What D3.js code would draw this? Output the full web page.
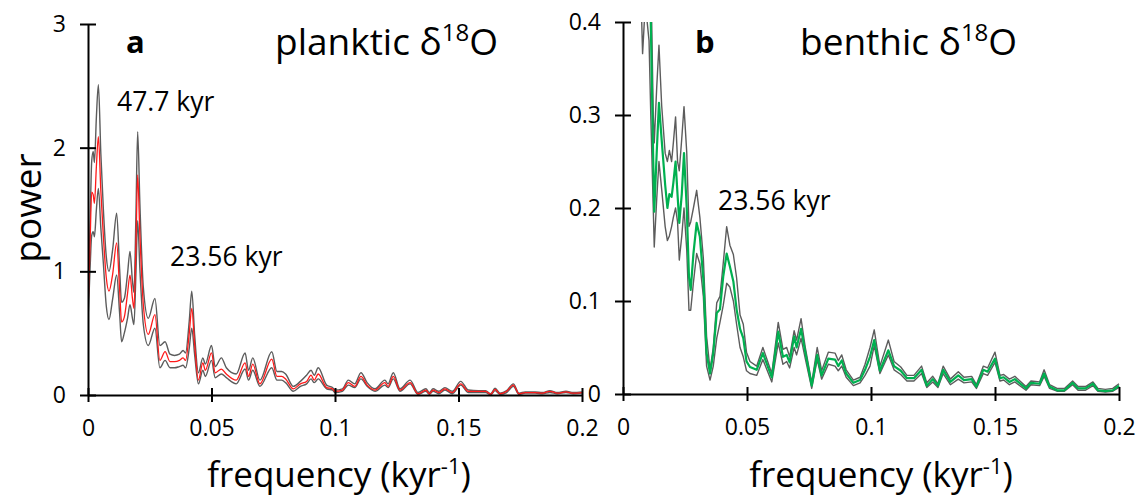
<!DOCTYPE html>
<html><head><meta charset="utf-8">
<script src="https://cdn.jsdelivr.net/npm/d3@7"></script>
<style>html,body{margin:0;padding:0;background:#fff}svg{display:block}text{font-family:"Open Sans",sans-serif;fill:#000}</style>
</head><body>
<svg id="c" width="1139" height="498"></svg>
<script>
// ---- Panel a: planktic d18O power spectrum ----
const freqA = [0,0.0008,0.0015,0.0021,0.0026,0.0034,0.0042,0.0052,0.0062,0.0074,0.0085,0.0100,0.0116,0.0128,0.0136,0.0147,0.0160,0.0170,0.0180,0.0186,0.0194,0.0201,0.0210,0.0224,0.0244,0.0271,0.0291,0.0312,0.0332,0.0350,0.0370,0.0385,0.0395,0.0410,0.0420,0.0432,0.0447,0.0465,0.0475,0.0500,0.0515,0.0540,0.0560,0.0600,0.0636,0.0650,0.0667,0.0696,0.0744,0.0765,0.0784,0.0800,0.0831,0.0860,0.0885,0.0903,0.0916,0.0932,0.0966,0.0990,0.1000,0.1030,0.1054,0.1080,0.1105,0.1130,0.1162,0.1202,0.1215,0.1236,0.1263,0.1304,0.1336,0.1368,0.1382,0.1397,0.1420,0.1445,0.1475,0.1509,0.1540,0.1580,0.1610,0.1630,0.1648,0.1668,0.1695,0.1722,0.1745,0.1770,0.1810,0.1840,0.1870,0.1900,0.1935,0.1965,0.2000];
const midA  = [0.67,1.20,1.64,1.62,1.55,1.85,2.09,1.65,1.29,0.95,0.84,0.98,1.23,0.85,0.59,0.63,0.82,0.97,0.78,0.70,1.20,1.78,1.30,0.73,0.49,0.65,0.28,0.35,0.27,0.27,0.28,0.30,0.28,0.50,0.70,0.40,0.12,0.26,0.20,0.34,0.18,0.21,0.17,0.12,0.26,0.15,0.25,0.09,0.29,0.15,0.15,0.13,0.05,0.09,0.11,0.16,0.12,0.17,0.06,0.05,0.03,0.04,0.10,0.07,0.15,0.08,0.04,0.10,0.07,0.15,0.04,0.10,0.01,0.04,0.01,0.04,0.02,0.05,0.02,0.09,0.03,0.03,0.03,0.005,0.045,0.01,0.03,0.08,0.01,0.02,0.02,0.015,0.03,0.015,0.025,0.015,0.02];
const upA   = [0.70,1.35,1.89,1.97,1.88,2.25,2.51,1.95,1.51,1.12,1.00,1.18,1.47,1.02,0.75,0.78,0.98,1.16,0.92,0.83,1.45,2.13,1.55,0.87,0.62,0.78,0.40,0.43,0.33,0.32,0.33,0.36,0.34,0.60,0.84,0.48,0.18,0.30,0.25,0.40,0.23,0.30,0.22,0.17,0.34,0.20,0.30,0.12,0.35,0.19,0.19,0.17,0.07,0.11,0.16,0.20,0.16,0.22,0.08,0.06,0.04,0.05,0.12,0.09,0.18,0.10,0.05,0.12,0.09,0.18,0.05,0.12,0.02,0.05,0.02,0.05,0.03,0.06,0.03,0.11,0.04,0.035,0.035,0.01,0.055,0.015,0.035,0.09,0.015,0.025,0.025,0.02,0.035,0.02,0.03,0.02,0.025];
const lowA  = [0.60,1.00,1.29,1.32,1.28,1.50,1.67,1.35,1.07,0.72,0.61,0.78,0.97,0.66,0.43,0.50,0.62,0.73,0.62,0.57,0.98,1.41,1.02,0.57,0.40,0.54,0.22,0.28,0.22,0.22,0.23,0.24,0.22,0.38,0.54,0.32,0.09,0.20,0.15,0.28,0.14,0.17,0.14,0.09,0.21,0.12,0.20,0.07,0.22,0.12,0.12,0.10,0.03,0.07,0.09,0.13,0.10,0.13,0.05,0.04,0.02,0.03,0.08,0.06,0.13,0.07,0.03,0.08,0.06,0.13,0.03,0.09,0.005,0.03,0.005,0.03,0.01,0.04,0.01,0.08,0.02,0.02,0.02,0.0,0.035,0.005,0.02,0.07,0.005,0.015,0.015,0.01,0.02,0.01,0.02,0.01,0.015];

// ---- Panel b: benthic d18O power spectrum ----
const freqB = [0.0060,0.0079,0.0090,0.0105,0.0112,0.0122,0.0126,0.0136,0.0145,0.0156,0.0170,0.0179,0.0187,0.0196,0.0203,0.0212,0.0220,0.0227,0.0237,0.0246,0.0257,0.0266,0.0273,0.0284,0.0297,0.0310,0.0324,0.0337,0.0351,0.0364,0.0378,0.0391,0.0404,0.0418,0.0431,0.0445,0.0458,0.0472,0.0485,0.0498,0.0512,0.0539,0.0564,0.0600,0.0626,0.0645,0.0660,0.0672,0.0690,0.0700,0.0718,0.0735,0.0761,0.0783,0.0801,0.0828,0.0855,0.0868,0.0882,0.0900,0.0929,0.0956,0.0976,0.0996,0.1013,0.1036,0.1070,0.1093,0.1120,0.1145,0.1173,0.1204,0.1225,0.1249,0.1270,0.1291,0.1320,0.1352,0.1375,0.1406,0.1425,0.1453,0.1470,0.1500,0.1520,0.1535,0.1558,0.1580,0.1625,0.1645,0.1680,0.1698,0.1720,0.1750,0.1780,0.1813,0.1835,0.1865,0.1895,0.1915,0.1945,0.1975,0.2000];
const midB  = [0.70,0.55,0.52,0.45,0.40,0.25,0.196,0.26,0.313,0.273,0.225,0.20,0.215,0.212,0.227,0.25,0.214,0.184,0.215,0.259,0.20,0.126,0.112,0.151,0.184,0.169,0.123,0.044,0.022,0.044,0.087,0.091,0.126,0.151,0.137,0.121,0.091,0.07,0.06,0.035,0.029,0.026,0.044,0.018,0.067,0.040,0.042,0.034,0.062,0.050,0.07,0.045,0.009,0.042,0.02,0.038,0.037,0.03,0.036,0.022,0.012,0.015,0.026,0.04,0.058,0.025,0.047,0.03,0.025,0.017,0.017,0.026,0.009,0.016,0.009,0.026,0.013,0.02,0.015,0.016,0.008,0.026,0.024,0.038,0.017,0.018,0.013,0.016,0.006,0.012,0.011,0.022,0.008,0.004,0.004,0.012,0.006,0.006,0.011,0.004,0.003,0.004,0.009];
const upB   = [0.90,0.75,0.70,0.55,0.46,0.30,0.27,0.33,0.375,0.31,0.259,0.25,0.262,0.25,0.27,0.298,0.25,0.24,0.275,0.309,0.26,0.18,0.185,0.20,0.219,0.19,0.146,0.062,0.026,0.05,0.098,0.105,0.14,0.18,0.16,0.15,0.125,0.085,0.075,0.045,0.035,0.03,0.05,0.022,0.077,0.048,0.05,0.04,0.068,0.058,0.081,0.05,0.012,0.05,0.025,0.045,0.044,0.036,0.042,0.026,0.015,0.018,0.032,0.05,0.069,0.03,0.058,0.035,0.029,0.02,0.02,0.03,0.012,0.019,0.011,0.03,0.016,0.024,0.018,0.019,0.01,0.03,0.028,0.045,0.02,0.021,0.016,0.019,0.008,0.014,0.013,0.026,0.01,0.006,0.006,0.014,0.008,0.008,0.013,0.006,0.005,0.006,0.011];
const lowB  = [0.55,0.366,0.42,0.38,0.30,0.20,0.158,0.21,0.25,0.22,0.18,0.165,0.17,0.18,0.19,0.20,0.185,0.144,0.17,0.20,0.155,0.09,0.09,0.12,0.151,0.14,0.105,0.03,0.015,0.03,0.06,0.077,0.095,0.119,0.115,0.10,0.075,0.05,0.04,0.025,0.022,0.02,0.037,0.013,0.055,0.032,0.035,0.028,0.05,0.042,0.06,0.038,0.006,0.037,0.016,0.032,0.03,0.025,0.03,0.018,0.009,0.012,0.02,0.03,0.052,0.022,0.042,0.026,0.021,0.014,0.014,0.022,0.007,0.013,0.007,0.022,0.01,0.016,0.012,0.013,0.006,0.022,0.02,0.034,0.014,0.015,0.01,0.013,0.004,0.01,0.009,0.019,0.006,0.003,0.003,0.01,0.004,0.004,0.009,0.003,0.002,0.003,0.007];

const xTicks = [0,0.05,0.1,0.15,0.2];
const xTickLabels = ["0","0.05","0.1","0.15","0.2"];
const yTicksA = [0,1,2,3];
const yTickLabelsA = ["0","1","2","3"];
const yTicksB = [0,0.1,0.2,0.3,0.4];
const yTickLabelsB = ["0","0.1","0.2","0.3","0.4"];

const svg = d3.select("#c");

function panel(opt){
  const g = svg.append("g");
  const x = d3.scaleLinear().domain([0,0.2]).range([opt.x0,opt.x1]);
  const y = d3.scaleLinear().domain([0,opt.ymax]).range([opt.y0,opt.y1]);
  const clipId = "clip"+opt.id;
  svg.append("clipPath").attr("id",clipId).append("rect")
    .attr("x",opt.x0).attr("y",opt.y1).attr("width",opt.x1-opt.x0+2).attr("height",opt.y0-opt.y1+2);
  const line = d3.line().x(d=>x(d[0])).y(d=>y(d[1])).curve(opt.curve);
  const lg = g.append("g").attr("clip-path",`url(#${clipId})`);
  [opt.lo,opt.up].forEach(arr=>{
    lg.append("path").attr("d",line(opt.freq.map((f,i)=>[f,arr[i]])))
      .attr("fill","none").attr("stroke","#5c5c5c").attr("stroke-width",1.4).attr("stroke-linejoin","round");
  });
  lg.append("path").attr("d",line(opt.freq.map((f,i)=>[f,opt.mid[i]])))
    .attr("fill","none").attr("stroke",opt.color).attr("stroke-width",opt.sw).attr("stroke-linejoin","round");

  const xAxis = d3.axisBottom(x).tickValues(xTicks).tickFormat((d,i)=>xTickLabels[i]).tickSizeInner(0).tickSizeOuter(0).tickPadding(25);
  const xg = g.append("g").attr("transform",`translate(0,${opt.y0})`).call(xAxis);
  xg.select(".domain").attr("stroke","#000").attr("stroke-width",2);
  xg.selectAll(".tick text").attr("font-size",23).attr("font-family","Open Sans").attr("fill","#000");
  xg.selectAll(".tick").append("line").attr("y1",-7).attr("y2",7).attr("stroke","#000").attr("stroke-width",2);

  const yAxis = d3.axisLeft(y).tickValues(opt.yTicks).tickFormat((d,i)=>opt.yLabels[i]).tickSizeInner(0).tickSizeOuter(0).tickPadding(22);
  const yg = g.append("g").attr("transform",`translate(${opt.x0},0)`).call(yAxis);
  yg.select(".domain").attr("stroke","#000").attr("stroke-width",2);
  yg.selectAll(".tick text").attr("font-size",23).attr("font-family","Open Sans").attr("fill","#000");
  yg.selectAll(".tick").append("line").attr("x1",-8).attr("x2",8).attr("stroke","#000").attr("stroke-width",2);
}

panel({id:"a",x0:88,x1:582,y0:395,y1:24,ymax:3,freq:freqA,mid:midA,up:upA,lo:lowA,color:"#ff1a1a",sw:1.3,
  curve:d3.curveMonotoneX,yTicks:yTicksA,yLabels:yTickLabelsA});
panel({id:"b",x0:623,x1:1119,y0:394,y1:22,ymax:0.4,freq:freqB,mid:midB,up:upB,lo:lowB,color:"#00b050",sw:2.2,
  curve:d3.curveLinear,yTicks:yTicksB,yLabels:yTickLabelsB});

function txt(x,y,size,opts={}){
  const t = svg.append("text").attr("x",x).attr("y",y).attr("font-size",size);
  if(opts.bold) t.attr("font-weight","bold");
  if(opts.anchor) t.attr("text-anchor",opts.anchor);
  if(opts.transform) t.attr("transform",opts.transform);
  return t;
}
txt(126,53,31,{bold:true}).text("a");
txt(695,53,31,{bold:true}).text("b");
function title(x,s){
  const t = txt(x,55,37);
  t.append("tspan").text(s+" δ");
  t.append("tspan").attr("font-size",24).attr("dy",-14).text("18");
  t.append("tspan").attr("dy",14).text("O");
}
title(275,"planktic");
title(800,"benthic");
txt(117,111,26.5).text("47.7 kyr");
txt(170,266,26.5).text("23.56 kyr");
txt(718,210,26.5).text("23.56 kyr");
txt(0,0,37,{anchor:"middle",transform:"translate(41,208) rotate(-90)"}).text("power");
function xlabel(cx){
  const t = txt(cx,487,35,{anchor:"middle"});
  t.append("tspan").text("frequency (kyr");
  t.append("tspan").attr("font-size",22).attr("dy",-13).text("-1");
  t.append("tspan").attr("dy",13).text(")");
}
xlabel(339);
xlabel(881);
</script>
</body></html>
